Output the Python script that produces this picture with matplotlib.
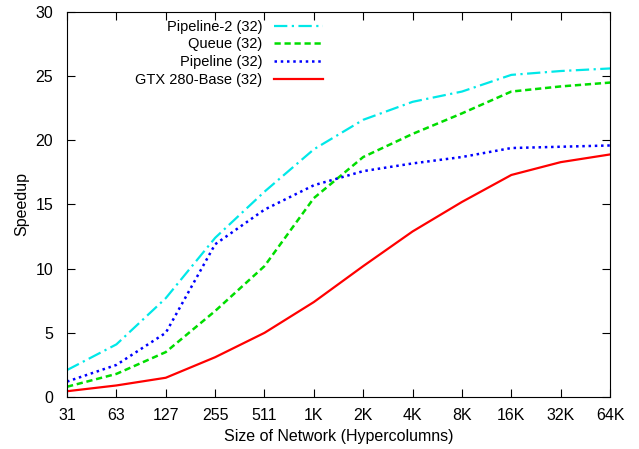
import numpy as np
import matplotlib
matplotlib.use("Agg")
import matplotlib.pyplot as plt

plt.rcParams['font.family'] = ['Liberation Sans', 'DejaVu Sans']

# network sizes (hypercolumns)
sizes = ["31", "63", "127", "255", "511", "1K", "2K", "4K", "8K", "16K", "32K", "64K"]

# speedup values
pipeline2 = [2.1, 4.1, 7.7, 12.4, 16.0, 19.3, 21.6, 23.0, 23.8, 25.1, 25.4, 25.6]
queue = [0.8, 1.8, 3.5, 6.7, 10.2, 15.5, 18.7, 20.5, 22.1, 23.8, 24.2, 24.5]
pipeline = [1.2, 2.5, 5.0, 11.9, 14.6, 16.5, 17.6, 18.2, 18.7, 19.4, 19.5, 19.6]
gtx_base = [0.45, 0.9, 1.5, 3.1, 5.0, 7.4, 10.2, 12.9, 15.2, 17.3, 18.3, 18.9]

x = np.arange(len(sizes))

fig = plt.figure(figsize=(6.39, 4.49), dpi=100)
ax = fig.add_axes([0.1049, 0.1158, 0.8498, 0.8575])

ax.plot(x, pipeline2, color='#00e8e8', lw=1.6, dashes=(6, 2, 1, 2), label='Pipeline-2 (32)')
ax.plot(x, queue, color='#00dd00', lw=1.8, dashes=(2.5, 1.5), label='Queue (32)')
ax.plot(x, pipeline, color='#0000ff', lw=1.8, dashes=(1, 1.5), label='Pipeline (32)')
ax.plot(x, gtx_base, color='#ff0000', lw=1.6, label='GTX 280-Base (32)')

ax.set_xlim(0, len(sizes) - 1)
ax.set_ylim(0, 30)
ax.set_xticks(x)
ax.set_xticklabels(sizes)
ax.set_yticks(range(0, 31, 5))
ax.tick_params(direction='in', top=True, right=True, labelsize=11.5, length=6)
ax.tick_params(axis='x', pad=8)
ax.tick_params(axis='y', pad=10)
ax.set_xlabel('Size of Network (Hypercolumns)', fontsize=11.5, labelpad=4.5)
ax.set_ylabel('Speedup', fontsize=11.5, labelpad=4.5)

leg = ax.legend(loc='upper right', bbox_to_anchor=(0.4825, 0.995), borderaxespad=0,
                frameon=False, markerfirst=False, fontsize=10.5,
                handlelength=3.36, handletextpad=0.82, labelspacing=0.25)
for t in leg.get_texts():
    t.set_ha('right')
leg._legend_box.align = 'right'

plt.savefig('out.png', dpi=100)
